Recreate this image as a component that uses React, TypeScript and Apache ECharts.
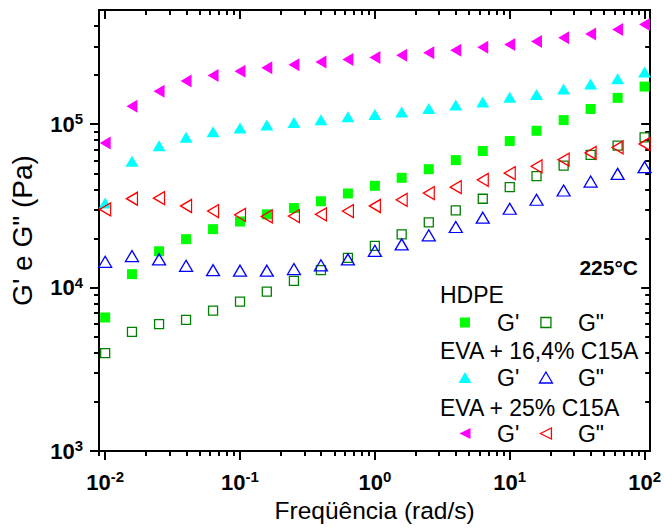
import { useEffect, useRef } from "react";
import * as echarts from "echarts";

const FONT = "'Liberation Sans', Arial, Helvetica, sans-serif";

// Angular frequency (rad/s), 5 points per decade
const frequency = [
  0.01, 0.0158, 0.0251, 0.0398, 0.0631, 0.1, 0.158, 0.251, 0.398, 0.631, 1,
  1.58, 2.51, 3.98, 6.31, 10, 15.8, 25.1, 39.8, 63.1, 100,
];

// HDPE
const hdpeStorage = [
  6570, 12100, 16700, 19800, 22800, 25400, 28100, 30700, 33800, 37700, 42000,
  47000, 53100, 60300, 68600, 78900, 91200, 106000, 124000, 145000, 170000,
];
const hdpeLoss = [
  3980, 5370, 5980, 6350, 7240, 8220, 9460, 11000, 12800, 15200, 18000,
  21200, 25100, 29700, 35000, 41200, 48100, 55800, 64900, 73900, 83100,
];

// EVA + 16,4% C15A
const eva16Storage = [
  33000, 59300, 73800, 83100, 89900, 94700, 99100, 102500, 106400, 111000,
  114800, 119000, 125000, 131000, 137000, 146000, 152000, 164000, 176000,
  190000, 209000,
];
const eva16Loss = [
  14400, 15600, 14900, 13600, 12800, 12700, 12700, 13000, 13700, 14900, 16800,
  18400, 20900, 23500, 26800, 30400, 34500, 39300, 44600, 49700, 54600,
];

// EVA + 25% C15A
const eva25Storage = [
  76700, 129000, 159000, 184000, 199000, 211000, 222000, 231000, 240000,
  249000, 256000, 264000, 274000, 284000, 296000, 307000, 321000, 338000,
  357000, 380000, 407000,
];
const eva25Loss = [
  30100, 35000, 35300, 31600, 29400, 27900, 27300, 27400, 28100, 29400, 31600,
  34500, 37900, 41200, 45700, 50200, 55300, 60700, 66700, 72200, 75700,
];

const groupNames = ["HDPE", "EVA + 16,4% C15A", "EVA + 25% C15A"];
const moduliNames = ["G'", 'G"'];

const xMajorTicks = [0.01, 0.1, 1, 10, 100];
const xMinorTicks = [
  0.009, 0.02, 0.03, 0.04, 0.05, 0.06, 0.07, 0.08, 0.09, 0.2, 0.3, 0.4, 0.5,
  0.6, 0.7, 0.8, 0.9, 2, 3, 4, 5, 6, 7, 8, 9, 20, 30, 40, 50, 60, 70, 80, 90,
];
const yMajorTicks = [1000, 10000, 100000];
const yMinorTicks = [
  2000, 3000, 4000, 5000, 6000, 7000, 8000, 9000, 20000, 30000, 40000, 50000,
  60000, 70000, 80000, 90000, 200000, 300000, 400000,
];

const X_MIN = 0.009;
const X_MAX = 110;
const Y_MIN = 1000;
const Y_MAX = 500000;

const LEFT_TRIANGLE = "path://M0,50 L100,0 L100,100 Z";

const seriesStyles = [
  { values: hdpeStorage, group: 0, mod: 0, symbol: "rect", size: 10, color: "#00ff00", filled: true },
  { values: hdpeLoss, group: 0, mod: 1, symbol: "rect", size: 9, color: "#008000", filled: false },
  { values: eva16Storage, group: 1, mod: 0, symbol: "triangle", size: [13, 11], color: "#00ffff", filled: true },
  { values: eva16Loss, group: 1, mod: 1, symbol: "triangle", size: [13, 11], color: "#0000ff", filled: false },
  { values: eva25Storage, group: 2, mod: 0, symbol: LEFT_TRIANGLE, size: [11, 13], color: "#ff00ff", filled: true },
  { values: eva25Loss, group: 2, mod: 1, symbol: LEFT_TRIANGLE, size: [11, 13], color: "#ff0000", filled: false },
];

const seriesName = (g: number, m: number) => `${groupNames[g]} ${moduliNames[m]}`;

const powLabel = (v: number) => {
  const e = Math.round(Math.log10(v));
  return `{b|10}{s|${e}}`;
};
const powRich = {
  b: { fontSize: 22, fontWeight: "bold", fontFamily: FONT, color: "#000", lineHeight: 26 },
  s: { fontSize: 15, fontWeight: "bold", fontFamily: FONT, color: "#000", lineHeight: 8, verticalAlign: "top" },
};

const lineStyle = { color: "#000", width: 2 };
const LEGEND_FONT = 23;

export default function App() {
  const ref = useRef<HTMLDivElement>(null);

  useEffect(() => {
    if (!ref.current) return;
    const chart = echarts.init(ref.current, null, { renderer: "svg" });

    const xBase = { type: "log", logBase: 10, min: X_MIN, max: X_MAX, splitLine: { show: false }, gridIndex: 0 };
    const yBase = { type: "log", logBase: 10, min: Y_MIN, max: Y_MAX, splitLine: { show: false }, gridIndex: 0 };

    const iconSizes = [
      [10, 10],
      [13, 11],
      [11, 13],
    ];
    const legendRows = [0, 1, 2].map((g) => {
      const [w, h] = iconSizes[g];
      const tops = [311, 366, 422];
      return {
        data: [
          { name: seriesName(g, 0), itemStyle: { borderWidth: 0 } },
          { name: seriesName(g, 1), itemStyle: { borderWidth: 1.3 } },
        ],
        orient: "horizontal",
        left: 465 - w / 2,
        top: tops[g],
        itemWidth: w,
        itemHeight: h,
        itemGap: 26 - w / 2,
        padding: 0,
        selectedMode: false,
        formatter: (name: string) => `{p| }{t|${name.endsWith('"') ? 'G"' : "G'"}}`,
        textStyle: {
          color: "#000",
          fontFamily: FONT,
          fontSize: LEGEND_FONT,
          rich: {
            p: { width: 27 - w / 2, fontSize: LEGEND_FONT, fontFamily: FONT },
            t: { fontSize: LEGEND_FONT, fontFamily: FONT, color: "#000" },
          },
        },
      };
    });

    const option = {
      animation: false,
      backgroundColor: "#fff",
      grid: { left: 99, right: 12, top: 10, bottom: 75 },
      xAxis: [
        {
          ...xBase,
          position: "bottom",
          name: "Freqüência (rad/s)",
          nameLocation: "middle",
          nameGap: 46,
          nameTextStyle: { fontFamily: FONT, fontSize: 24.5, color: "#000" },
          axisLine: { show: true, onZero: false, lineStyle },
          axisTick: { show: true, length: 9, lineStyle, customValues: xMajorTicks },
          axisLabel: { show: true, customValues: xMajorTicks, formatter: powLabel, rich: powRich, margin: 18 },
        },
        {
          ...xBase,
          position: "bottom",
          axisLine: { show: false },
          axisTick: { show: true, length: 5, lineStyle, customValues: xMinorTicks },
          axisLabel: { show: false },
        },
        {
          ...xBase,
          position: "top",
          axisLine: { show: true, onZero: false, lineStyle },
          axisTick: { show: true, inside: true, length: 9, lineStyle, customValues: xMajorTicks },
          axisLabel: { show: false },
        },
        {
          ...xBase,
          position: "top",
          axisLine: { show: false },
          axisTick: { show: true, inside: true, length: 5, lineStyle, customValues: xMinorTicks },
          axisLabel: { show: false },
        },
      ],
      yAxis: [
        {
          ...yBase,
          position: "left",
          name: 'G\' e G" (Pa)',
          nameLocation: "middle",
          nameGap: 63,
          nameTextStyle: { fontFamily: FONT, fontSize: 28, color: "#000" },
          axisLine: { show: true, onZero: false, lineStyle },
          axisTick: { show: true, length: 9, lineStyle, customValues: yMajorTicks },
          axisLabel: { show: true, customValues: yMajorTicks, formatter: powLabel, rich: powRich, margin: 16 },
        },
        {
          ...yBase,
          position: "left",
          axisLine: { show: false },
          axisTick: { show: true, length: 5, lineStyle, customValues: yMinorTicks },
          axisLabel: { show: false },
        },
        {
          ...yBase,
          position: "right",
          axisLine: { show: true, onZero: false, lineStyle },
          axisTick: { show: true, inside: true, length: 9, lineStyle, customValues: yMajorTicks },
          axisLabel: { show: false },
        },
        {
          ...yBase,
          position: "right",
          axisLine: { show: false },
          axisTick: { show: true, inside: true, length: 5, lineStyle, customValues: yMinorTicks },
          axisLabel: { show: false },
        },
      ],
      legend: legendRows,
      graphic: [
        {
          type: "text",
          x: 638,
          y: 267,
          style: { text: "225°C", fill: "#000", font: `bold 21px ${FONT}`, align: "right", verticalAlign: "middle" },
        },
        ...groupNames.map((g, i) => ({
          type: "text",
          x: 440,
          y: [295, 351, 408][i],
          style: { text: g, fill: "#000", font: `${LEGEND_FONT}px ${FONT}`, align: "left", verticalAlign: "middle" },
        })),
      ],
      series: seriesStyles.map((s) => ({
        type: "scatter",
        name: seriesName(s.group, s.mod),
        xAxisIndex: 0,
        yAxisIndex: 0,
        symbol: s.symbol,
        symbolSize: s.size,
        symbolKeepAspect: false,
        silent: true,
        emphasis: { disabled: true },
        itemStyle: {
          color: s.filled ? s.color : "rgba(0,0,0,0)",
          borderColor: s.color,
          borderWidth: s.filled ? 0 : 1.3,
          opacity: 1,
        },
        data: frequency.map((f, i) => [f, s.values[i]]),
      })),
    };

    chart.setOption(option as any);
    return () => chart.dispose();
  }, []);

  return (
    <div
      ref={ref}
      style={{ position: "fixed", left: 0, top: 0, width: 664, height: 528, background: "#fff" }}
    />
  );
}
